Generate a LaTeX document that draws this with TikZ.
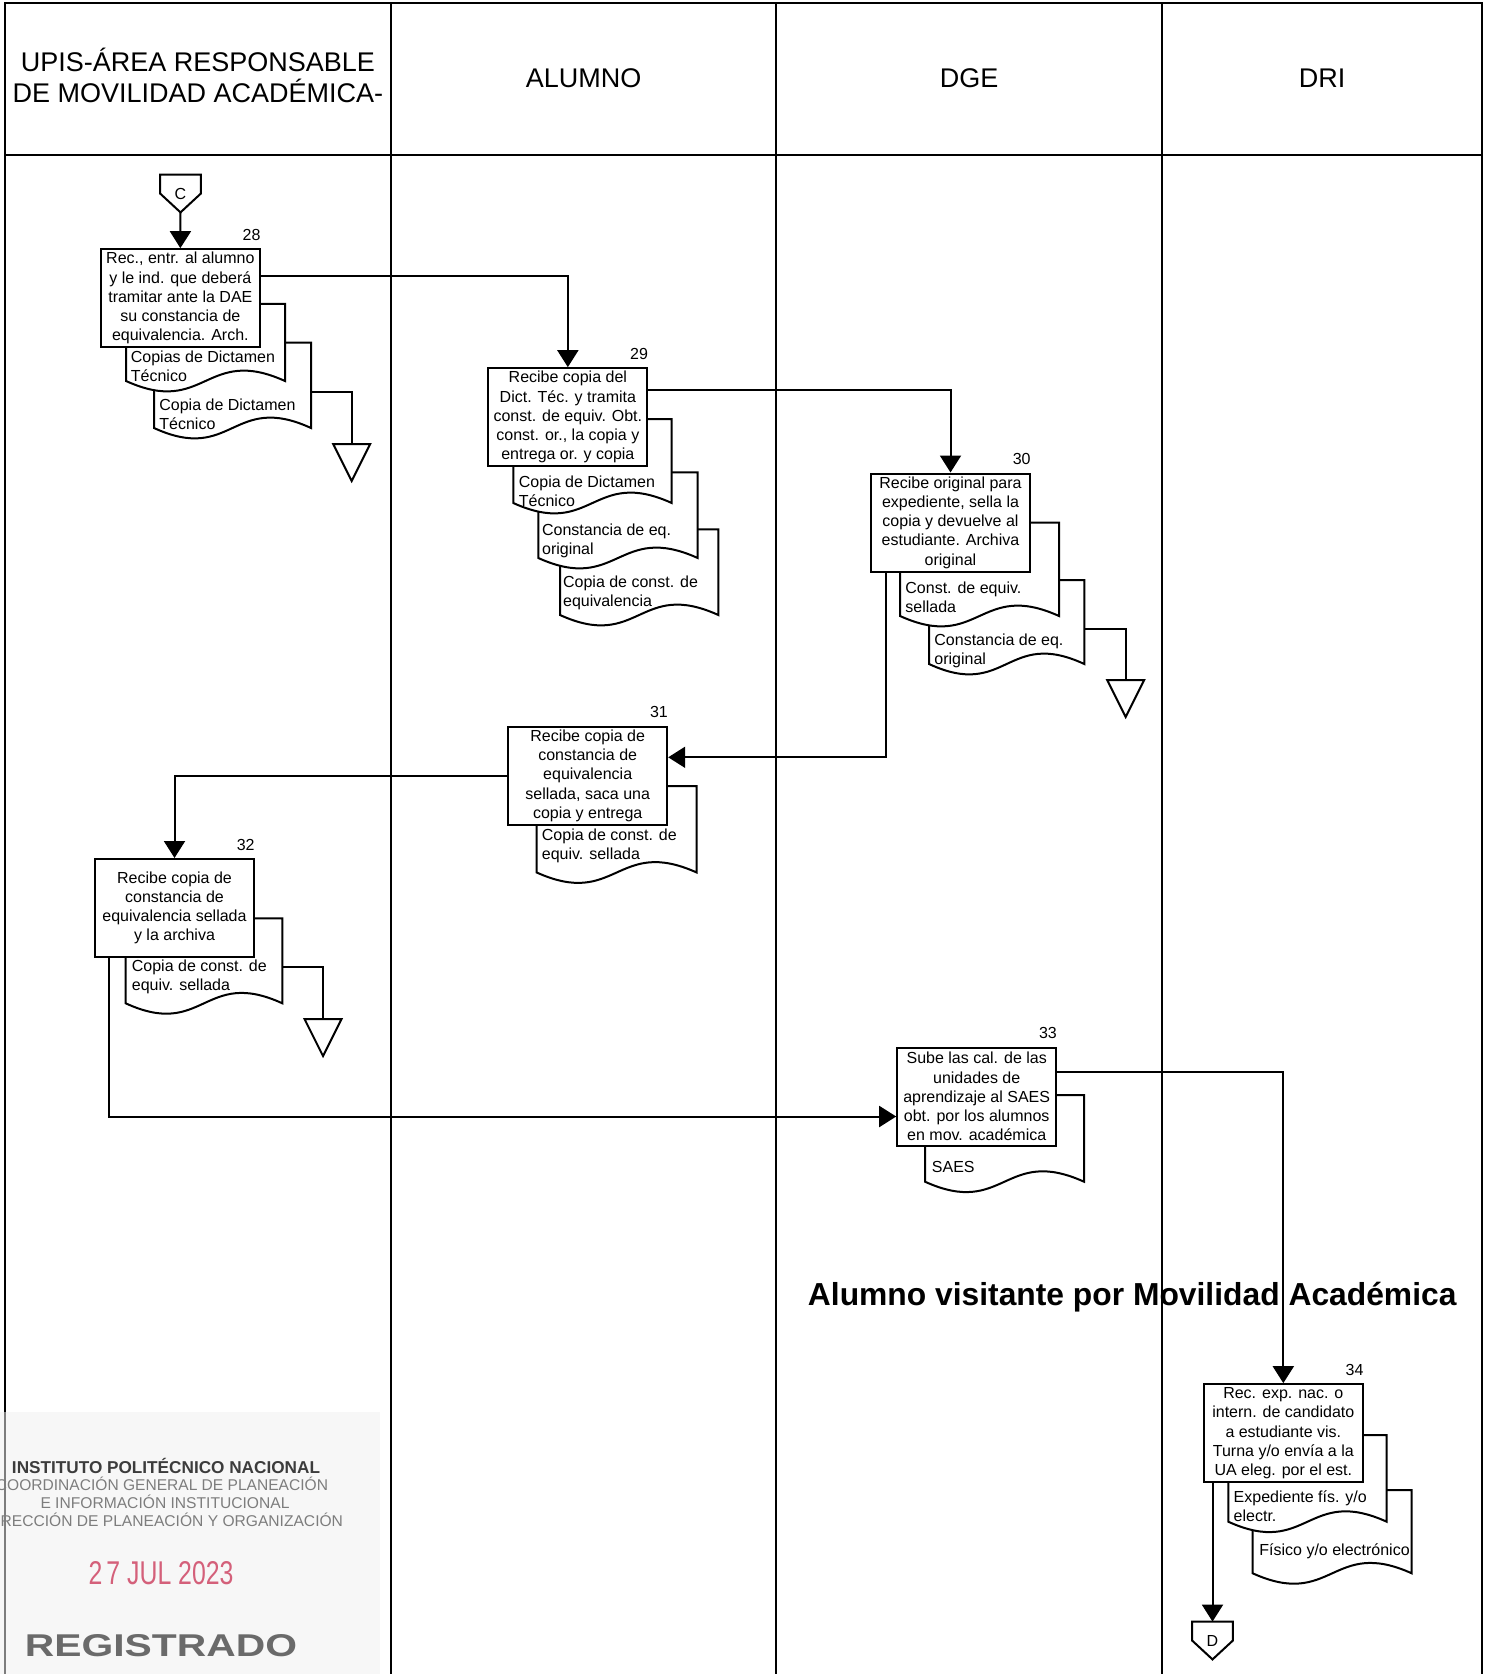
\documentclass[tikz,border=0pt]{standalone}
\usepackage{fontspec}
\setmainfont{Liberation Sans}
\usetikzlibrary{arrows.meta}
\definecolor{stampred}{RGB}{212,96,122}
\definecolor{stampdark}{RGB}{60,60,60}
\definecolor{stampgrey}{RGB}{125,125,125}
\definecolor{stampbg}{RGB}{247,247,247}
\newcommand\docu[8]{%
  \draw[docline] (#2,#3) -- (#4,#3) -- (#4,#5) .. controls ({(#2+#4)/2},{#5-36}) and ({(#2+#4)/2},{#5+36}) .. (#2,#5) -- cycle;
  \coordinate (#1e) at (#4,{#3+49});
  \node[doctext] (#1) at (#6,#7) {#8};
}
\newcommand\archtri[3]{%
  \coordinate (#1) at (#2,#3);
  \draw[link] ({#2-18.5},#3) -- ({#2+18.5},#3) -- (#2,{#3+37}) -- cycle;
}
\begin{document}
\begin{tikzpicture}[x=0.5pt,y=-0.5pt,
  lane/.style={line width=1.2pt},
  proc/.style={draw, line width=1pt, fill=white, minimum width=79.5pt, minimum height=49pt, inner sep=0pt, align=center, font=\fontsize{8}{9.6}\selectfont},
  docline/.style={draw, line width=1pt, fill=white},
  doctext/.style={anchor=west, inner sep=0pt, align=left, font=\fontsize{8}{9.6}\selectfont},
  flow/.style={line width=1pt, -{Triangle[length=8.5pt,width=10.5pt]}},
  link/.style={line width=1pt},
  num/.style={inner sep=0pt, anchor=base east, font=\fontsize{8}{9.6}\selectfont},
  conn/.style={minimum width=20pt, minimum height=18.5pt, inner sep=0pt, font=\fontsize{8}{9.6}\selectfont},
  head/.style={align=center, inner sep=0pt, font=\fontsize{13.5}{15.5}\selectfont},
  ttl/.style={inner sep=0pt, anchor=base, font=\fontsize{15.9}{18}\selectfont\bfseries},
  stamp/.style={inner sep=0pt}
]
\useasboundingbox (0,0) rectangle (1484,1674);
% lanes
\draw[lane] (5,1690) -- (5,3.2) -- (1482,3.2) -- (1482,1690);
\draw[lane] (5,154.8) -- (1482,154.8);
\foreach \x in {390.7,776.2,1162} \draw[lane] (\x,3.2) -- (\x,1690);
\node[head] (h1) at (197.9,75.5) {UPIS-ÁREA RESPONSABLE\\DE MOVILIDAD ACADÉMICA-};
\node[head] (h2) at (583.5,78) {ALUMNO};
\node[head] (h3) at (969,78) {DGE};
\node[head] (h4) at (1322,78) {DRI};

% stamp
\fill[stampbg] (0,1412) rectangle (380,1674);
\draw[line width=0.6pt, stampgrey] (5,1412) -- (5,1690);
\node[stamp, text=stampdark] (s1) at (166,1466) {\resizebox{154pt}{!}{\bfseries INSTITUTO POLITÉCNICO NACIONAL}};
\node[stamp, text=stampgrey] (s2) at (162,1484) {\resizebox{166pt}{!}{COORDINACIÓN GENERAL DE PLANEACIÓN}};
\node[stamp, text=stampgrey] (s3) at (165,1502) {\resizebox{124.5pt}{!}{E INFORMACIÓN INSTITUCIONAL}};
\node[stamp, text=stampgrey] (s4) at (164,1520) {\resizebox{179pt}{!}{DIRECCIÓN DE PLANEACIÓN Y ORGANIZACIÓN}};
\node[stamp, text=stampred] (s5) at (161,1573) {\resizebox{72.5pt}{11.5pt}{2\,7 JUL 2023}};
\node[stamp, text=stampgrey!85!black] (s6) at (161,1646) {\resizebox{136pt}{11pt}{\bfseries REGISTRADO}};

% title
\node[ttl] (title) at (1132.2,1305) {Alumno visitante por Movilidad Académica};

% connector C
\node[conn] (C) at (180.5,193.5) {C};
\draw[link] (C.north west) -- (C.north east) -- (C.east) -- (C.south) -- (C.west) -- cycle;

% step 28
\docu{d28b}{154}{342.7}{311}{428}{159}{414.5}{Copia de Dictamen\\Técnico}
\docu{d28a}{126}{304}{285}{381}{130.5}{366}{Copias de Dictamen\\Técnico}
\node[proc] (b28) at (180.35,298.15) {Rec., entr. al alumno\\y le ind. que deberá\\tramitar ante la DAE\\su constancia de\\equivalencia. Arch.};
\node[num] (n28) at ([yshift=4pt]b28.north east) {28};
\archtri{t28}{351.7}{444}
\draw[link] (d28be) -| (t28);

% step 29
\docu{d29c}{560}{529.3}{718.3}{615}{562.7}{592.5}{Copia de const. de\\equivalencia}
\docu{d29b}{538.3}{472.3}{697.7}{558}{541.7}{541}{Constancia de eq.\\original}
\docu{d29a}{513.3}{419}{671.7}{503}{518.5}{491}{Copia de Dictamen\\Técnico}
\node[proc] (b29) at (567.85,417.15) {Recibe copia del\\Dict. Téc. y tramita\\const. de equiv. Obt.\\const. or., la copia y\\entrega or. y copia};
\node[num] (n29) at ([yshift=4pt]b29.north east) {29};

% step 30
\docu{d30b}{929}{580}{1084.3}{664}{934}{651}{Constancia de eq.\\original}
\docu{d30a}{900}{522.7}{1059}{616}{905}{597}{Const. de equiv.\\sellada}
\node[proc] (b30) at (950.5,522.5) {Recibe original para\\expediente, sella la\\copia y devuelve al\\estudiante. Archiva\\original};
\node[num] (n30) at ([yshift=4pt]b30.north east) {30};
\archtri{t30}{1125.7}{680}
\draw[link] (d30be) -| (t30);

% step 31
\docu{d31a}{536.7}{786}{696.7}{872.5}{541.5}{846}{Copia de const. de\\equiv. sellada}
\node[proc] (b31) at (587.7,775.85) {Recibe copia de\\constancia de\\equivalencia\\sellada, saca una\\copia y entrega};
\node[num] (n31) at ([yshift=4pt]b31.north east) {31};

% step 32
\docu{d32a}{125.7}{918.3}{282.3}{1003.3}{131.5}{977}{Copia de const. de\\equiv. sellada}
\node[proc] (b32) at (174.5,908) {Recibe copia de\\constancia de\\equivalencia sellada\\y la archiva};
\node[num] (n32) at ([yshift=4pt]b32.north east) {32};
\archtri{t32}{323}{1019}
\draw[link] (d32ae) -| (t32);

% step 33
\docu{d33a}{925}{1095}{1084}{1181.7}{931.5}{1166.7}{SAES}
\node[proc] (b33) at (976.7,1096.65) {Sube las cal. de las\\unidades de\\aprendizaje al SAES\\obt. por los alumnos\\en mov. académica};
\node[num] (n33) at ([yshift=4pt]b33.north east) {33};

% step 34
\docu{d34b}{1252.7}{1490}{1411.7}{1573.3}{1259}{1551.7}{Físico y/o electrónico}
\docu{d34a}{1228.3}{1435}{1386.7}{1521.7}{1233.3}{1506}{Expediente fís. y/o\\electr.}
\node[proc] (b34) at (1283.3,1433.15) {Rec. exp. nac. o\\intern. de candidato\\a estudiante vis.\\Turna y/o envía a la\\UA eleg. por el est.};
\node[num] (n34) at ([yshift=4pt]b34.north east) {34};

% connector D
\node[conn] (D) at (1212.5,1640.5) {D};
\draw[link] (D.north west) -- (D.north east) -- (D.east) -- (D.south) -- (D.west) -- cycle;

% flow connectors
\draw[flow] (C.south) -- (b28.north);
\draw[flow] (b28.east |- 0,276) -| (b29.north);
\draw[flow] (b29.east |- 0,390) -| (b30.north);
\draw[flow] (b30.south -| 885.7,0) |- (b31.east |- 0,757.3);
\draw[flow] (b31.west) -| (b32.north);
\draw[flow] (b32.south -| 109.3,0) |- (b33.west |- 0,1116.5);
\draw[flow] (b33.east |- 0,1072.3) -| (b34.north);
\draw[flow] (b34.south -| D.north) -- (D.north);
\end{tikzpicture}
\end{document}
